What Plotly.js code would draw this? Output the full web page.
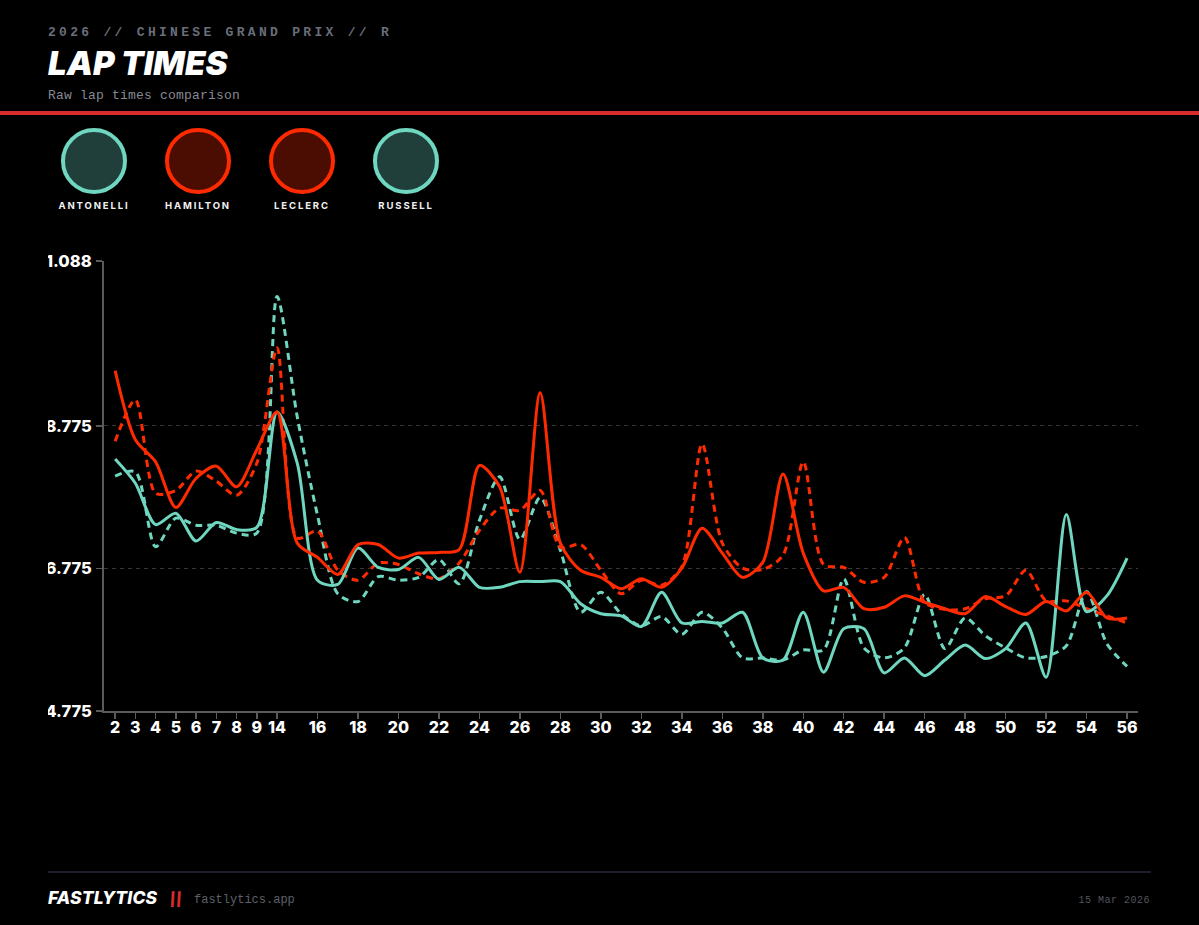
<!DOCTYPE html>
<html><head><meta charset="utf-8">
<script src="https://cdn.plot.ly/plotly-3.0.1.min.js"></script>
<style>
html,body{margin:0;padding:0;background:#000;width:1199px;height:925px;overflow:hidden;position:relative}
.t{position:absolute;white-space:nowrap;line-height:1}
.mono{font-family:"Liberation Mono",monospace}
.inter{font-family:Inter,sans-serif}
#chart{position:absolute;left:48px;top:240px;width:1103px;height:520px;overflow:hidden}
.c{position:absolute;top:128px;width:58px;height:58px;border-radius:50%;border:4px solid}
.l{position:absolute;top:201px;width:104px;text-align:center;font:700 9.5px Inter,sans-serif;letter-spacing:1.9px;color:#f2f2f2;line-height:1}
</style></head><body>
<div class="t mono" style="left:48px;top:26px;font-size:13px;font-weight:700;letter-spacing:3.3px;color:#696e7b">2026 // CHINESE GRAND PRIX // R</div>
<div class="t inter" style="left:48px;top:47px;font-size:33px;font-weight:900;font-style:italic;color:#fff">LAP TIMES</div>
<div class="t mono" style="left:48px;top:89px;font-size:13px;letter-spacing:.2px;color:#858992">Raw lap times comparison</div>
<div style="position:absolute;left:0;top:111px;width:1199px;height:4px;background:#d92b2b"></div>
<div id="legend"></div>
<div id="chart"></div>
<div style="position:absolute;left:48px;top:871px;width:1103px;height:2px;background:#1e2029"></div>
<div class="t inter" style="left:48px;top:889px;font-size:17.5px;font-weight:800;font-style:italic;letter-spacing:.15px;color:#fff">FASTLYTICS</div>
<div class="t inter" style="left:169px;top:890px;font-size:18px;font-weight:800;color:#d92b2b;letter-spacing:-1px;transform:skewX(12deg)">//</div>
<div class="t mono" style="left:194px;top:894px;font-size:12px;letter-spacing:0;color:#5d6068">fastlytics.app</div>
<div class="t mono" style="right:49px;top:896px;font-size:10px;letter-spacing:.5px;color:#53565e">15 Mar 2026</div>
<script>
var laps=["2","3","4","5","6","7","8","9","14","15","16","17","18","19","20","21","22","23","24","25","26","27","28","29","30","31","32","33","34","35","36","37","38","39","40","41","42","43","44","45","46","47","48","49","50","51","52","53","54","55","56"];
var xTicks=["2","3","4","5","6","7","8","9","14","16","18","20","22","24","26","28","30","32","34","36","38","40","42","44","46","48","50","52","54","56"];
var yTickValues=[94.775,96.775,98.775,101.088];
var yTickLabels=["1:34.775","1:36.775","1:38.775","1:41.088"];
var drivers=["ANTONELLI","HAMILTON","LECLERC","RUSSELL"];
var antonelli=[98.31,97.97,97.39,97.55,97.16,97.42,97.32,97.35,98.97,98.25,96.61,96.55,97.06,96.79,96.76,96.93,96.62,96.79,96.51,96.51,96.59,96.59,96.59,96.28,96.14,96.11,95.96,96.44,96.01,96.03,96.01,96.16,95.52,95.49,96.16,95.32,95.93,95.93,95.31,95.52,95.27,95.49,95.70,95.51,95.65,96.01,95.25,97.53,96.17,96.39,96.92];
var hamilton=[99.55,98.58,98.27,97.63,98.04,98.21,97.92,98.44,98.97,97.13,96.93,96.69,97.11,97.11,96.92,96.99,97.00,97.04,98.22,97.92,96.72,99.24,97.13,96.75,96.65,96.49,96.63,96.51,96.78,97.34,96.99,96.65,96.86,98.10,96.99,96.46,96.51,96.21,96.23,96.39,96.30,96.21,96.14,96.38,96.24,96.13,96.31,96.18,96.44,96.08,96.08];
var leclerc=[98.56,99.14,97.83,97.87,98.14,98.00,97.80,98.25,99.87,97.20,97.30,96.75,96.61,96.85,96.83,96.70,96.63,96.85,97.31,97.62,97.59,97.87,97.07,97.11,96.75,96.42,96.61,96.54,96.80,98.52,97.13,96.78,96.76,96.96,98.27,96.83,96.79,96.58,96.65,97.21,96.30,96.20,96.21,96.35,96.39,96.75,96.32,96.32,96.21,96.11,96.01];
var russell=[98.07,98.13,97.08,97.48,97.38,97.38,97.27,97.27,100.59,98.90,97.52,96.42,96.31,96.66,96.61,96.65,96.90,96.56,97.45,98.06,97.18,97.77,97.03,96.16,96.44,96.14,95.97,96.10,95.85,96.16,95.94,95.52,95.52,95.49,95.63,95.63,96.63,95.66,95.52,95.66,96.41,95.65,96.08,95.83,95.66,95.52,95.54,95.69,96.45,95.72,95.40];
var teal="#6fd6c0",red="#ff2b00";
var lineColors=[teal,red,red,teal];
var fills=["#213f3a","#4b0d02","#4b0d02","#213f3a"];
var centers=[94,198,302,406];
var series=[antonelli,hamilton,leclerc,russell];
var dashes=["solid","solid","7px,5px","7px,5px"];
var legend=document.getElementById("legend");
drivers.forEach(function(d,i){
  var c=document.createElement("div");c.className="c";
  c.style.left=(centers[i]-33)+"px";c.style.borderColor=lineColors[i];c.style.background=fills[i];
  legend.appendChild(c);
  var l=document.createElement("div");l.className="l";l.textContent=d;
  l.style.left=(centers[i]-52)+"px";legend.appendChild(l);
});
var order=[3,2,0,1];
var traces=order.map(function(i){return {
  x:laps,y:series[i],name:drivers[i],type:"scatter",mode:"lines",
  line:{color:lineColors[i],width:3,dash:dashes[i],shape:"spline",smoothing:0.8},
  hoverinfo:"skip"};});
var xFont={family:"Inter, sans-serif",size:16,color:"#ffffff",weight:800};
var yFont={family:"Inter, sans-serif",size:16.5,color:"#ffffff",weight:800};
Plotly.newPlot("chart",traces,{
  width:1103,height:520,paper_bgcolor:"#000",plot_bgcolor:"#000",showlegend:false,
  margin:{l:56,r:13,t:21,b:49,pad:0},
  xaxis:{type:"category",categoryorder:"array",categoryarray:laps,range:[-0.55,50.54],
    tickmode:"array",tickvals:xTicks,ticktext:xTicks,tickangle:0,ticklabelstandoff:-5,
    ticks:"outside",ticklen:6,tickwidth:1.5,tickcolor:"#5a5a5a",
    showline:true,linecolor:"#5a5a5a",linewidth:1.5,showgrid:false,zeroline:false,tickfont:xFont},
  yaxis:{type:"linear",range:[94.775,101.088],tickmode:"array",tickvals:yTickValues,ticktext:yTickLabels,
    ticks:"outside",ticklen:6,tickwidth:1.5,tickcolor:"#5a5a5a",ticklabelstandoff:1,
    showline:true,linecolor:"#5a5a5a",linewidth:2,showgrid:true,gridcolor:"rgba(255,255,255,0.22)",griddash:"4px,4px",gridwidth:1,
    zeroline:false,tickfont:yFont}
},{displayModeBar:false,staticPlot:true});
</script>
</body></html>
